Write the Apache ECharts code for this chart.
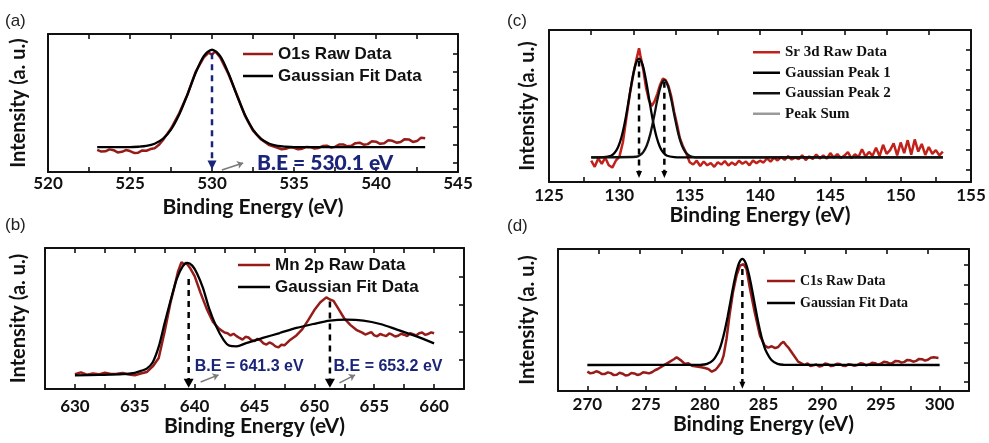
<!DOCTYPE html>
<html>
<head>
<meta charset="utf-8">
<script src="https://cdn.jsdelivr.net/npm/echarts@6/dist/echarts.min.js"></script>
<style>
  html, body { margin: 0; padding: 0; background: #fff; }
  #chart { width: 989px; height: 443px; }
</style>
</head>
<body>
<div id="chart"></div>
<script>
// (a) O1s spectrum, [binding energy eV, intensity a.u.]
const o1sRaw = [
  [523,16],[523.25,14.8],[523.5,15],[523.75,16.4],[524,15.8],[524.25,14.2],[524.5,14.6],[524.75,15.9],
  [525,15.2],[525.25,13.8],[525.5,14],[525.75,15.6],[526,15.4],[526.25,16.6],[526.5,17.2],[526.75,19.5],
  [527,23],[527.5,31.5],[528,42.5],[528.5,56],[529,72.5],[529.5,83],[529.8,86.5],[530,85],
  [530.2,87.5],[530.5,83],[531,71],[531.5,56.5],[532,41],[532.5,30],[533,23.5],[533.5,19.5],
  [534,17.5],[534.25,16.4],[534.5,16.8],[534.75,17.9],[535,17.6],[535.25,16.5],[535.5,16.9],[535.75,18.2],
  [536,18],[536.25,17],[536.5,17.4],[536.75,18.8],[537,19],[537.25,17.8],[537.5,18.2],[537.75,19.9],
  [538,20],[538.25,18.6],[538.5,19],[538.75,20.9],[539,21.2],[539.25,19.8],[539.5,20.2],[539.75,22.3],
  [540,22],[540.25,20.4],[540.5,20.8],[540.75,23],[541,22.6],[541.25,21.2],[541.5,21.8],[541.75,23.8],
  [542,23.6],[542.25,21.8],[542.5,22.4],[542.75,24.9],[543,24.5]
];
const o1sFit = [
  [523,18],[525,18],[525.5,18.3],[526,18.9],[526.5,20.5],[527,24],[527.5,30.7],[528,41.6],
  [528.5,56.1],[529,71.7],[529.5,84],[530,88.6],[530.5,84],[531,71.7],[531.5,56.1],[532,41.6],
  [532.5,30.7],[533,24],[533.5,20.5],[534,18.9],[534.5,18.3],[535,18],[543,18]
];
const o1sPeakLine = [[530, 86], [530, 5]];
const o1sNotes = [[536.9, 6.5, 'B.E = 530.1 eV']];
const o1sPointer = [[[530.6, 1.4], [531.9, 6.5]]];

// (b) Mn 2p spectrum
const mnRaw = [
  [630,10.5],[630.5,11.8],[631,10.2],[631.5,11],[632,10.4],[632.5,11.6],[633,10.6],[633.5,10.9],
  [634,11.4],[634.5,10.2],[635,9.8],[635.5,11],[636,12],[636.5,16],[637,22],[637.5,41],[638,62],
  [638.3,72],[638.6,83],[638.9,90],[639.1,88.5],[639.3,89.5],[639.6,86],[640,80],[640.5,68],
  [641,57],[641.5,48],[642,43],[642.25,41.5],[642.5,40],[642.75,39.6],[643,38],[643.25,39.2],[643.5,37.5],
  [643.75,36.2],[644,35],[644.25,37],[644.5,36.5],[644.75,34.6],[645,34],[645.25,35.6],[645.5,34.5],
  [645.75,32.4],[646,31.5],[646.25,33],[646.5,32],[646.75,30.2],[647,29.5],[647.25,31.4],[647.5,31],
  [648,35],[648.5,38],[649,42.5],[649.5,49],[650,56],[650.5,61.5],[651,65],[651.3,63.5],[651.6,62.5],
  [652,57],[652.5,50],[653,45.5],[653.5,42],[654,40],[654.25,38.6],[654.5,39.5],[654.75,40.4],[655,38],
  [655.25,37.4],[655.5,39],[655.75,38.2],[656,37.5],[656.25,39.4],[656.5,38.5],[656.75,37.2],[657,37.8],
  [657.25,39.2],[657.5,38.5],[657.75,37.6],[658,39.5],[658.25,38.8],[658.5,38],[658.75,39.6],[659,40],
  [659.25,38.4],[659.5,39],[659.75,40.2],[660,39.5]
];
const mnFit = [
  [630,9.7],[632,10],[634,10.5],[635,11.5],[635.5,12.8],[636,14.5],[636.5,19],[637,30],
  [637.5,47],[638,63],[638.5,78],[639,87],[639.4,89.5],[639.8,87.5],[640.2,82],[640.7,71.6],
  [641.2,57.4],[641.8,44.4],[642.4,35],[642.9,30.7],[643.5,30.3],[644.3,32.6],[645.7,36.2],
  [647.1,39.7],[648.5,43.3],[649.9,46.1],[651.3,48.5],[652.7,49.2],[654.1,48.5],[655.5,46.1],
  [656.9,42.1],[658.3,38],[660,32.4]
];
const mnPeakLines = [[[639.5, 78], [639.5, 4]], [[651.3, 62], [651.3, 4]]];
const mnNotes = [[640.0, 15.6, 'B.E = 641.3 eV'], [651.6, 15.6, 'B.E = 653.2 eV']];
const mnPointers = [[[640.5, 5], [642.0, 10]], [[652.1, 4.3], [653.4, 10]]];

// (c) Sr 3d spectrum
const srRaw = [
  [128,14],[128.25,10],[128.5,15.5],[128.75,12],[129,16],[129.25,11],[129.5,9.5],[129.75,14],
  [130,16.5],[130.25,26],[130.5,42],[130.75,58],[131,71],[131.2,80],[131.4,88],[131.5,83],
  [131.7,74],[131.9,62],[132.1,54],[132.3,50],[132.5,53],[132.7,58],[132.9,64],[133.1,68],
  [133.3,67],[133.5,63],[133.7,56],[133.9,46],[134.1,38],[134.3,29],[134.5,24],[134.75,19],
  [135,13],[135.25,11.5],[135.5,14],[135.75,10.5],[136,13.5],[136.25,11],[136.5,12.5],[136.75,10],
  [137,13],[137.25,11.5],[137.5,13.8],[137.75,10.8],[138,12.8],[138.25,11.2],[138.5,14],[138.75,12],
  [139,13.5],[139.25,11],[139.5,14.2],[139.75,12.4],[140,14],[140.25,12.8],[140.5,15.6],[140.75,13.4],
  [141,16],[141.25,14.2],[141.5,16.4],[141.75,14.6],[142,17],[142.25,14.8],[142.5,16],[142.75,15],
  [143,17.6],[143.25,14.4],[143.5,16.8],[143.75,15.2],[144,18],[144.25,15.5],[144.5,17.4],[144.75,15.4],
  [145,19],[145.25,16],[145.5,18.4],[145.75,15.8],[146,17.4],[146.25,19.6],[146.5,15.6],[146.75,18.2],
  [147,16.4],[147.25,21.5],[147.5,16.8],[147.75,19.8],[148,17.2],[148.25,22.5],[148.5,17],[148.75,24.5],
  [149,18.5],[149.25,21],[149.5,25.5],[149.75,17.5],[150,26],[150.25,19],[150.5,27.5],[150.75,18],
  [151,28],[151.25,20],[151.5,25],[151.75,17.8],[152,23],[152.25,18.5],[152.5,21],[152.75,17.5],[153,20]
];
const srPeak1 = [
  [128,16.2],[128.9,16.4],[129.4,17.3],[129.65,19.1],[129.9,22.7],[130.15,29.4],[130.4,39.6],
  [130.65,52.8],[130.9,66.6],[131.15,77.2],[131.4,81.2],[131.65,77.2],[131.9,66.6],[132.15,52.8],
  [132.4,39.6],[132.65,29.4],[132.9,22.7],[133.15,19.1],[133.4,17.3],[133.9,16.4],[134.4,16.2],[153,16.2]
];
const srPeak2 = [
  [128,16.2],[131.2,16.6],[131.45,17.5],[131.7,19.7],[131.95,24],[132.2,31.5],[132.45,42.1],
  [132.7,53.9],[132.95,63.3],[133.2,67],[133.45,63.3],[133.7,53.9],[133.95,42.1],[134.2,31.5],
  [134.45,24],[134.7,19.7],[134.95,17.5],[135.2,16.6],[135.7,16.2],[153,16.2]
];
const srPeakLines = [[[131.4, 80], [131.4, 5]], [[133.2, 66], [133.2, 5]]];

// (d) C1s spectrum
const c1sRaw = [
  [270,13.6],[270.25,12.4],[270.5,12.8],[270.75,13.9],[271,13.2],[271.25,11.9],[271.5,12],[271.75,13.1],
  [272,12.6],[272.25,11.2],[272.5,11.4],[272.75,12.8],[273,12.2],[273.25,10.9],[273.5,11.3],[273.75,12.7],
  [274,12.4],[274.25,11.3],[274.5,11.8],[274.75,13.2],[275,12.9],[275.25,12.4],[275.5,13.2],[275.75,14.6],
  [276,15.5],[276.5,18],[277,20.5],[277.4,22.5],
  [277.6,23.7],[278,21.4],[278.3,19],[278.6,19.5],[278.9,17.8],[279.3,17.2],[279.7,16.7],[280,16.2],
  [280.3,15.5],[280.6,13.6],[280.9,14.8],[281.1,16.7],[281.4,20],[281.6,24.9],[281.85,36.6],
  [282.1,53],[282.4,69.5],[282.7,81.2],[283,88.3],[283.3,89.4],[283.55,86],[283.8,74.2],
  [284.25,55.4],[284.7,39],[285.1,32],[285.4,30.5],[285.7,31.5],[286,30.2],[286.25,31],
  [286.5,33.5],[286.7,34.7],[286.9,32.5],[287.1,30.8],[287.5,26],[287.95,20.7],[288.5,18.3],
  [288.75,19.4],[289,17.6],[289.25,18.1],[289.5,18.6],[289.75,17.2],[290,17.8],[290.25,19.3],[290.5,18.9],
  [290.75,17.5],[291,18],[291.25,19.2],[291.5,19],[291.75,17.8],[292,17.6],[292.25,18.9],[292.5,18.5],
  [292.75,17.7],[293,18.2],[293.25,19.6],[293.5,19.2],[293.75,18.1],[294,18.6],[294.25,19.9],[294.5,19.6],
  [294.75,18.5],[295,19.2],[295.25,20.6],[295.5,20.3],[295.75,19.3],[296,19.8],[296.25,21.2],[296.5,21],
  [296.75,20],[297,20.5],[297.25,21.9],[297.5,21.6],[297.75,20.6],[298,21.2],[298.25,22.6],[298.5,22.4],
  [298.75,21.4],[299,22],[299.25,23.4],[299.5,23.7],[299.9,23.2]
];
const c1sFit = [
  [270,18.3],[279.7,18.5],[280.2,19.1],[280.7,21.6],[281.2,28.4],[281.45,34.4],[281.7,42.6],
  [281.95,52.5],[282.2,63.6],[282.45,74.7],[282.7,84.2],[282.95,90.7],[283.2,93],[283.45,90.7],
  [283.7,84.2],[283.95,74.7],[284.2,63.6],[284.45,52.5],[284.7,42.6],[284.95,34.4],[285.2,28.4],
  [285.7,21.6],[286.2,19.1],[286.7,18.5],[300,18.3]
];
const c1sPeakLines = [[[283.2, 86], [283.2, 4]]];

const NAVY = '#1a2478';
const RAW = '#961c1a';
const SANS = 'Lato';

// layout of the four panels
const panels = [
  { grid: { left: 48, top: 34, width: 410, height: 138 }, min: 520, max: 545,
    rightTicks: [6.5, 19.7, 32.9, 46.1, 59.3, 72.5, 85.7], topTicks: null, margin: 3, nameGap: 25, yGap: 19 },
  { grid: { left: 45, top: 248, width: 419, height: 141 }, min: 627.5, max: 662.5,
    rightTicks: [21, 40.5, 60, 79.5], topTicks: null, margin: 9, nameGap: 26, yGap: 16 },
  { grid: { left: 549, top: 30, width: 422, height: 152 }, min: 125, max: 155,
    rightTicks: [7.9, 21.1, 34.2, 47.4, 60.5, 73.7, 86.8],
    topTicks: [128, 131, 134, 137, 140, 143, 146, 149, 152], margin: 5, nameGap: 23, yGap: 11 },
  { grid: { left: 558, top: 249, width: 411, height: 142 }, min: 267.5, max: 302.5,
    rightTicks: [6.3, 19.7, 33.8, 47.2, 61.3, 74.6, 88.7],
    topTicks: [271, 274.5, 278, 281.5, 285, 288.5, 292, 295.5, 299], margin: 5, nameGap: 23, yGap: 20 }
];

const axisLine = { show: true, onZero: false, lineStyle: { color: '#111', width: 2 } };
const tickStyle = { color: '#111', width: 1.6 };

const grids = [], xAxes = [], yAxes = [];
panels.forEach((p, i) => {
  grids.push(Object.assign({ containLabel: false, outerBoundsMode: 'none' }, p.grid));
  xAxes.push({
    type: 'value', gridIndex: i, position: 'bottom', min: p.min, max: p.max, interval: 2.5,
    axisLine, splitLine: { show: false },
    axisTick: { show: true, inside: true, length: 5, lineStyle: tickStyle },
    axisLabel: { margin: p.margin, color: '#111', fontFamily: SANS, fontWeight: 'bold', fontSize: 17,
      formatter: v => (Math.abs(v % 5) < 1e-6 ? String(v) : '') },
    name: 'Binding Energy (eV)', nameLocation: 'middle', nameGap: p.nameGap,
    nameTextStyle: { color: '#111', fontFamily: SANS, fontWeight: 'bold', fontSize: 21 }
  });
  const top = {
    type: 'value', gridIndex: i, position: 'top', min: p.min, max: p.max, interval: 2.5,
    axisLine, splitLine: { show: false }, axisLabel: { show: false },
    axisTick: { show: true, inside: true, length: 5, lineStyle: tickStyle }
  };
  if (p.topTicks) top.axisTick.customValues = p.topTicks;
  xAxes.push(top);
  yAxes.push({
    type: 'value', gridIndex: i, position: 'left', min: 0, max: 100,
    axisLine, splitLine: { show: false }, axisTick: { show: false }, axisLabel: { show: false },
    name: 'Intensity (a. u.)', nameLocation: 'middle', nameRotate: 90, nameGap: p.yGap,
    nameTextStyle: { color: '#111', fontFamily: SANS, fontWeight: 'bold', fontSize: 20 }
  });
  yAxes.push({
    type: 'value', gridIndex: i, position: 'right', min: 0, max: 100,
    axisLine, splitLine: { show: false }, axisLabel: { show: false },
    axisTick: { show: true, inside: true, length: 5, lineStyle: tickStyle, customValues: p.rightTicks }
  });
});

function lineSeries(name, data, i, color, width, extra) {
  return Object.assign({
    type: 'line', name, data, xAxisIndex: i * 2, yAxisIndex: i * 2,
    symbol: 'none', lineStyle: { color, width }, itemStyle: { color }, silent: true
  }, extra || {});
}

function peakLine(seg, i, color, arrowSize) {
  return {
    type: 'line', data: [
      { value: seg[0], symbol: 'none' },
      { value: seg[1], symbol: 'triangle', symbolRotate: 180, symbolSize: arrowSize }
    ],
    xAxisIndex: i * 2, yAxisIndex: i * 2, showSymbol: true, showAllSymbol: true,
    lineStyle: { color, width: 2.5, type: [6, 5] }, itemStyle: { color }, z: 5, silent: true
  };
}

function notes(items, pointers, i, fontFamily, fontSize, align) {
  return {
    type: 'scatter', xAxisIndex: i * 2, yAxisIndex: i * 2, symbolSize: 0, silent: true, z: 6,
    itemStyle: { opacity: 1, color: NAVY },
    data: items.map(n => ({ value: [n[0], n[1]], name: n[2] })),
    label: { show: true, position: 'inside', align, verticalAlign: 'middle', formatter: '{b}',
      color: NAVY, opacity: 1, textBorderWidth: 0, textBorderColor: 'transparent',
      fontFamily, fontWeight: 900, fontSize },
    markLine: {
      silent: true, symbol: ['none', 'arrow'], symbolSize: 6, label: { show: false },
      lineStyle: { color: '#7a7a7a', width: 1.5, type: 'solid', opacity: 1 },
      data: pointers.map(s => [{ coord: s[0] }, { coord: s[1] }])
    }
  };
}

const series = [
  // (a)
  lineSeries('O1s Raw Data', o1sRaw, 0, RAW, 2.5, { z: 2 }),
  lineSeries('Gaussian Fit Data', o1sFit, 0, '#000', 2.3, { smooth: 0.3, z: 3 }),
  peakLine(o1sPeakLine, 0, NAVY, [9, 9]),
  notes(o1sNotes, o1sPointer, 0, SANS, 21, 'center'),
  // (b)
  lineSeries('Mn 2p Raw Data', mnRaw, 1, RAW, 2.5, { z: 2 }),
  lineSeries('Gaussian Fit Data', mnFit, 1, '#000', 2.3, { smooth: 0.3, z: 3 }),
  ...mnPeakLines.map(s => peakLine(s, 1, '#000', [10, 9])),
  notes(mnNotes, mnPointers, 1, 'Liberation Sans', 16, 'left'),
  // (c)
  lineSeries('Sr 3d Raw Data', srRaw, 2, '#c0221b', 2.5, { z: 2 }),
  lineSeries('Gaussian Peak 1', srPeak1, 2, '#000', 2.3, { smooth: 0.3, z: 3 }),
  lineSeries('Gaussian Peak 2', srPeak2, 2, '#111', 2.3, { smooth: 0.3, z: 3 }),
  lineSeries('Peak Sum', [], 2, '#9a9a9a', 1.5),
  ...srPeakLines.map(s => peakLine(s, 2, '#000', [6, 7])),
  // (d)
  lineSeries('C1s Raw Data', c1sRaw, 3, RAW, 2.5, { z: 2 }),
  lineSeries('Gaussian Fit Data', c1sFit, 3, '#000', 2.3, { smooth: 0.3, z: 3 }),
  ...c1sPeakLines.map(s => peakLine(s, 3, '#000', [6, 7]))
];

function legend(names, left, top, itemWidth, rowHeight, font, size) {
  return {
    data: names, orient: 'vertical', left, top, itemWidth, itemHeight: 2.5, itemGap: 0,
    icon: 'rect', selectedMode: false, padding: 0,
    textStyle: { color: '#111', fontFamily: font, fontWeight: 'bold', fontSize: size, lineHeight: rowHeight }
  };
}

function panelTag(text, left, top) {
  return { text, left, top, padding: 0,
    textStyle: { color: '#222', fontFamily: 'Liberation Sans', fontWeight: 'normal', fontSize: 17 } };
}

const chart = echarts.init(document.getElementById('chart'), null, { renderer: 'canvas' });
chart.setOption({
  backgroundColor: '#fff',
  animation: false,
  title: [panelTag('(a)', 5, 13), panelTag('(b)', 5, 217), panelTag('(c)', 507, 13), panelTag('(d)', 507, 218)],
  legend: [
    legend(['O1s Raw Data', 'Gaussian Fit Data'], 243, 43, 30, 22, 'Liberation Sans', 17),
    legend(['Mn 2p Raw Data', 'Gaussian Fit Data'], 238, 254, 32, 22, 'Liberation Sans', 17),
    legend(['Sr 3d Raw Data', 'Gaussian Peak 1', 'Gaussian Peak 2', 'Peak Sum'], 753, 42, 27, 20.5, 'Liberation Serif', 15),
    legend(['C1s Raw Data', 'Gaussian Fit Data'], 767, 270, 28, 22, 'Liberation Serif', 14)
  ],
  grid: grids,
  xAxis: xAxes,
  yAxis: yAxes,
  series
});
</script>
</body>
</html>
